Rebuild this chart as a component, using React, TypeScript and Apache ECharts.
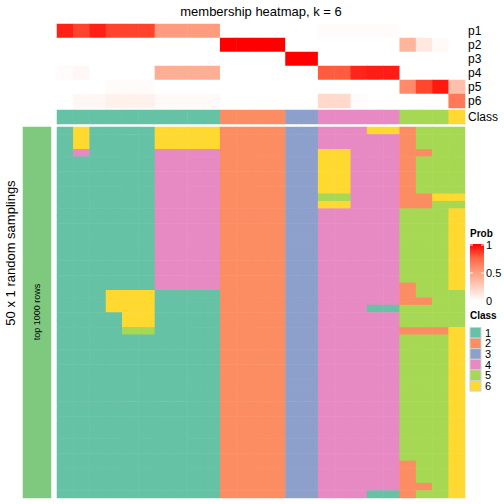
import React, { useEffect, useRef } from "react";
import * as echarts from "echarts";

const FONT = "'Liberation Sans', Arial, Helvetica, sans-serif";

const columnIds: string[] = Array.from({ length: 25 }, (_, i) => `c${i + 1}`);
const probRowNames = ["p1", "p2", "p3", "p4", "p5", "p6"];

const p1 = [0.92, 0.84, 0.92, 0.84, 0.84, 0.84, 0.51, 0.51, 0.51, 0.51, 0, 0, 0, 0, 0, 0, 0.02, 0.02, 0.02, 0.02, 0.02, 0, 0, 0, 0];
const p2 = [0, 0, 0, 0, 0, 0, 0, 0, 0, 0, 1, 1, 1, 1, 0, 0, 0, 0, 0, 0, 0, 0.39, 0.12, 0.03, 0];
const p3 = [0, 0, 0, 0, 0, 0, 0, 0, 0, 0, 0, 0, 0, 0, 1, 1, 0, 0, 0, 0, 0, 0, 0, 0, 0];
const p4 = [0.02, 0.04, 0, 0, 0, 0, 0.42, 0.42, 0.42, 0.42, 0, 0, 0, 0, 0, 0, 0.78, 0.78, 0.91, 0.93, 0.93, 0, 0, 0, 0];
const p5 = [0, 0, 0, 0.02, 0.02, 0.02, 0, 0, 0, 0, 0, 0, 0, 0, 0, 0, 0, 0, 0, 0, 0, 0.59, 0.83, 0.94, 0.33];
const p6 = [0, 0.04, 0.04, 0.07, 0.07, 0.07, 0.03, 0.03, 0.03, 0.03, 0, 0, 0, 0, 0, 0, 0.2, 0.2, 0.02, 0, 0, 0, 0, 0, 0.67];
const probMatrix = [p1, p2, p3, p4, p5, p6];

const classRow = [1, 1, 1, 1, 1, 1, 1, 1, 1, 1, 2, 2, 2, 2, 3, 3, 4, 4, 4, 4, 4, 5, 5, 5, 6];

// 50 random samplings (rows), one digit per column = class
const samplingRows = [
  "1611116666222233444662555",
  "1611116666222233444442555",
  "1611116666222233444442555",
  "1411114444222233664442255",
  "1111114444222233664442555",
  "1111114444222233664442555",
  "1111114444222233664442555",
  "1111114444222233664442555",
  "1111114444222233664442555",
  "1111114444222233554442266",
  "1111114444222233664442255",
  "1111114444222233444445556",
  "1111114444222233444445556",
  "1111114444222233444445556",
  "1111114444222233444445556",
  "1111114444222233444445556",
  "1111114444222233444445556",
  "1111114444222233444445556",
  "1111114444222233444445556",
  "1111114444222233444445556",
  "1111114444222233444445556",
  "1111114444222233444442556",
  "1116661111222233444442555",
  "1116661111222233444442255",
  "1116661111222233444115555",
  "1111661111222233444445555",
  "1111661111222233444445555",
  "1111551111222233444442226",
  "1111111111222233444445556",
  "1111111111222233444445556",
  "1111111111222233444445556",
  "1111111111222233444445556",
  "1111111111222233444445556",
  "1111111111222233444445556",
  "1111111111222233444445556",
  "1111111111222233444445556",
  "1111111111222233444445556",
  "1111111111222233444445556",
  "1111111111222233444445556",
  "1111111111222233444445556",
  "1111111111222233444445556",
  "1111111111222233444445556",
  "1111111111222233444445556",
  "1111111111222233444445556",
  "1111111111222233444445556",
  "1111111111222233444442556",
  "1111111111222233444442556",
  "1111111111222233444442556",
  "1111111111222233444442256",
  "1111111111222233444112556",
];

const classLabels = ["1", "2", "3", "4", "5", "6"];
const classColors = ["#66C2A5", "#FC8D62", "#8DA0CB", "#E78AC3", "#A6D854", "#FFD92F"];
const probStops = ["#FFFFFF", "#FFCFBF", "#FF9E81", "#FF6846", "#FF0000"];
const probTicks = [1, 0.5, 0];
const rowGroupColor = "#7FC97F";

export default function App() {
  const ref = useRef<HTMLDivElement>(null);

  useEffect(() => {
    if (!ref.current) return;
    const chart = echarts.init(ref.current, null, { renderer: "svg" });

    const probData: number[][] = [];
    probMatrix.forEach((row, r) => row.forEach((v, c) => probData.push([c, r, v])));
    const classData = classRow.map((v, c) => [c, 0, v]);
    const sampData: number[][] = [];
    samplingRows.forEach((s, r) => {
      for (let c = 0; c < s.length; c++) sampData.push([c, r, Number(s[c])]);
    });
    const rowIds = samplingRows.map((_, i) => `r${i + 1}`);

    const hiddenX = (gi: number, data: string[]) => ({
      type: "category", gridIndex: gi, data, show: false,
    });
    const yAx = (gi: number, data: string[], showLabels: boolean) => ({
      type: "category", gridIndex: gi, data, inverse: true, position: "right",
      axisLine: { show: false }, axisTick: { show: false }, splitLine: { show: false },
      axisLabel: { show: showLabels, interval: 0, fontSize: 12, color: "#000", margin: 3, fontFamily: FONT },
    });

    const graphics: any[] = [
      { type: "text", z: 100, x: 261, y: 11, style: { text: "membership heatmap, k = 6", fontSize: 13, fill: "#000", fontFamily: FONT, align: "center", verticalAlign: "middle" } },
      { type: "text", z: 100, x: 10, y: 253, rotation: Math.PI / 2, style: { text: "50 x 1 random samplings", fontSize: 13, fill: "#000", fontFamily: FONT, align: "center", verticalAlign: "middle" } },
      { type: "text", z: 100, x: 37, y: 312, rotation: Math.PI / 2, style: { text: "top 1000 rows", fontSize: 9, fill: "#000", fontFamily: FONT, align: "center", verticalAlign: "middle" } },
      { type: "text", z: 100, x: 470, y: 233, style: { text: "Prob", fontSize: 10, fontWeight: "bold", fill: "#000", fontFamily: FONT, verticalAlign: "middle" } },
      {
        type: "rect", z: 100, shape: { x: 470, y: 244, width: 14, height: 57 },
        style: {
          fill: new echarts.graphic.LinearGradient(0, 0, 0, 1, probStops.slice().reverse().map((c, i) => ({ offset: i / (probStops.length - 1), color: c }))),
        },
      },
      { type: "text", z: 100, x: 470, y: 315, style: { text: "Class", fontSize: 10, fontWeight: "bold", fill: "#000", fontFamily: FONT, verticalAlign: "middle" } },
    ];
    probTicks.forEach((t) => {
      const y = 245 + (1 - t) * 56;
      if (t > 0) {
        graphics.push({ type: "line", z: 101, shape: { x1: 470, y1: y, x2: 473, y2: y }, style: { stroke: "#fff", lineWidth: 1 } });
        graphics.push({ type: "line", z: 101, shape: { x1: 481, y1: y, x2: 484, y2: y }, style: { stroke: "#fff", lineWidth: 1 } });
      }
      graphics.push({ type: "text", z: 100, x: 486, y, style: { text: String(t), fontSize: 11, fill: "#000", fontFamily: FONT, verticalAlign: "middle" } });
    });
    classLabels.forEach((lab, i) => {
      const y = 327.5 + i * 10.6;
      graphics.push({ type: "rect", z: 100, shape: { x: 470, y, width: 11, height: 10.6 }, style: { fill: classColors[i], stroke: "#d0d0d0", lineWidth: 1 } });
      graphics.push({ type: "text", z: 100, x: 485, y: y + 5.3, style: { text: lab, fontSize: 11, fill: "#000", fontFamily: FONT, verticalAlign: "middle" } });
    });

    chart.setOption({
      animation: false,
      grid: [
        { left: 57, top: 24, width: 408, height: 84 },
        { left: 57, top: 110, width: 408, height: 14 },
        { left: 57, top: 127, width: 408, height: 371 },
        { left: 23, top: 127, width: 28, height: 371 },
      ],
      xAxis: [hiddenX(0, columnIds), hiddenX(1, columnIds), hiddenX(2, columnIds), hiddenX(3, ["bar"])],
      yAxis: [
        yAx(0, probRowNames, true),
        yAx(1, ["Class"], true),
        yAx(2, rowIds, false),
        yAx(3, ["top 1000 rows"], false),
      ],
      visualMap: [
        { type: "continuous", min: 0, max: 1, dimension: 2, seriesIndex: 0, show: false, inRange: { color: probStops } },
        {
          type: "piecewise", dimension: 2, seriesIndex: [1, 2], show: false,
          pieces: classLabels.map((l, i) => ({ value: Number(l), color: classColors[i] })),
        },
        { type: "piecewise", dimension: 2, seriesIndex: 3, show: false, pieces: [{ value: 1, color: rowGroupColor }] },
      ],
      series: [
        { type: "heatmap", xAxisIndex: 0, yAxisIndex: 0, data: probData, emphasis: { disabled: true }, itemStyle: { borderWidth: 0 } },
        { type: "heatmap", xAxisIndex: 1, yAxisIndex: 1, data: classData, emphasis: { disabled: true }, itemStyle: { borderWidth: 0 } },
        { type: "heatmap", xAxisIndex: 2, yAxisIndex: 2, data: sampData, emphasis: { disabled: true }, itemStyle: { borderWidth: 0 } },
        { type: "heatmap", xAxisIndex: 3, yAxisIndex: 3, data: [[0, 0, 1]], emphasis: { disabled: true }, itemStyle: { borderWidth: 0 } },
      ],
      graphic: graphics,
    });

    return () => chart.dispose();
  }, []);

  return <div ref={ref} style={{ position: "fixed", left: 0, top: 0, width: 504, height: 504, background: "#fff" }} />;
}
